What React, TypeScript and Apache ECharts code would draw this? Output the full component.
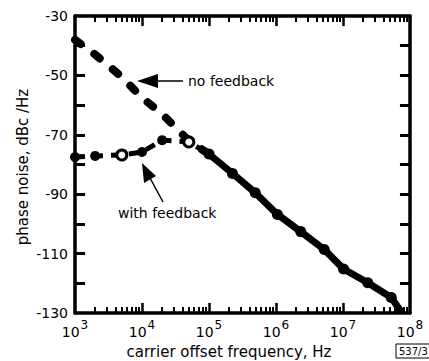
import React, { useEffect, useRef } from "react";
import * as echarts from "echarts";

// no feedback (dashed) curve
const noFbFreq = [1000, 2000, 5000, 10000, 20000, 50000, 100000];
const noFbNoise = [-38, -43, -50.5, -57.5, -63, -72, -76.5];

// with feedback, low-offset part (dashed with dots)
const fbLowFreq = [1000, 2000, 5000, 10000, 20000, 50000, 100000];
const fbLowNoise = [-77.5, -77.1, -76.8, -75.8, -71.8, -72.4, -76.5];
const fbLowOpen = [false, false, true, false, false, true, false];

// common curve above 1e5 (solid with dots)
const fbHighFreq = [100000, 224000, 490000, 1050000, 2340000, 5250000, 10200000, 23400000, 52500000, 70800000];
const fbHighNoise = [-76.5, -83, -89.5, -96.8, -102.6, -108.6, -115.2, -119.8, -124.8, -129];

// tick values
const xMajorTicks = [1e4, 1e5, 1e6, 1e7];
const xMinorTicks: number[] = [];
for (const d of [1e3, 1e4, 1e5, 1e6, 1e7]) for (let k = 2; k <= 9; k++) xMinorTicks.push(k * d);
const yTicks = [-120, -110, -100, -90, -80, -70, -60, -50, -40];

const FONT = "DejaVu Sans";
const X_MIN = 1e3;
const X_MAX = 1e8;
const Y_MIN = -130;
const Y_MAX = -30;

const mkAxisLine = () => ({ show: true, lineStyle: { color: "#000", width: 3.5 } });

// tick segments as markLine pairs in data coordinates
const MAJ_DB = 3.4; // ~10 px
const MIN_DB = 2.0; // ~6 px
const Y_TICK_DEC = 0.15; // ~10 px in decades
const tickSegments: any[] = [];
for (const v of xMajorTicks) {
  tickSegments.push([{ coord: [v, Y_MIN], lineStyle: { width: 2.5 } }, { coord: [v, Y_MIN + MAJ_DB] }]);
  tickSegments.push([{ coord: [v, Y_MAX], lineStyle: { width: 2.5 } }, { coord: [v, Y_MAX - MAJ_DB] }]);
}
for (const v of xMinorTicks) {
  tickSegments.push([{ coord: [v, Y_MIN], lineStyle: { width: 2 } }, { coord: [v, Y_MIN + MIN_DB] }]);
  tickSegments.push([{ coord: [v, Y_MAX], lineStyle: { width: 2 } }, { coord: [v, Y_MAX - MIN_DB] }]);
}
for (const y of yTicks) {
  tickSegments.push([{ coord: [X_MIN, y], lineStyle: { width: 3 } }, { coord: [X_MIN * Math.pow(10, Y_TICK_DEC), y] }]);
  tickSegments.push([{ coord: [X_MAX, y], lineStyle: { width: 3 } }, { coord: [X_MAX / Math.pow(10, Y_TICK_DEC), y] }]);
}

export default function App() {
  const ref = useRef<HTMLDivElement>(null);
  useEffect(() => {
    if (!ref.current) return;
    const chart = echarts.init(ref.current, undefined, { renderer: "svg" });
    chart.setOption({
      animation: false,
      grid: { left: 75, right: 19, top: 16, bottom: 48 },
      xAxis: [
        {
          type: "log",
          min: X_MIN,
          max: X_MAX,
          position: "bottom",
          axisLine: mkAxisLine(),
          axisTick: { show: false },
          splitLine: { show: false },
          axisLabel: {
            margin: 6,
            formatter: (v: number) => "{b|10}{s|" + Math.round(Math.log10(v)) + "}",
            rich: {
              b: { fontFamily: FONT, fontSize: 14, color: "#000", lineHeight: 20, verticalAlign: "bottom" },
              s: { fontFamily: FONT, fontSize: 12, color: "#000", lineHeight: 20, verticalAlign: "top", padding: [0, 0, 8, 1] },
            },
          },
        },
        {
          type: "log",
          min: X_MIN,
          max: X_MAX,
          position: "top",
          axisLine: mkAxisLine(),
          axisTick: { show: false },
          splitLine: { show: false },
          axisLabel: { show: false },
        },
      ],
      yAxis: [
        {
          type: "value",
          min: Y_MIN,
          max: Y_MAX,
          interval: 20,
          position: "left",
          axisLine: mkAxisLine(),
          axisTick: { show: false },
          splitLine: { show: false },
          axisLabel: { margin: 7, fontFamily: FONT, fontSize: 14, color: "#000" },
        },
        {
          type: "value",
          min: Y_MIN,
          max: Y_MAX,
          interval: 20,
          position: "right",
          axisLine: mkAxisLine(),
          axisTick: { show: false },
          splitLine: { show: false },
          axisLabel: { show: false },
        },
      ],
      series: [
        {
          name: "no feedback",
          type: "line",
          symbol: "none",
          data: noFbFreq.map((f, i) => [f, noFbNoise[i]]),
          lineStyle: { color: "#000", width: 8, type: [7, 17], cap: "round" },
        },
        {
          name: "with feedback",
          type: "line",
          symbol: "circle",
          symbolSize: 10,
          data: fbLowFreq.map((f, i) =>
            fbLowOpen[i]
              ? { value: [f, fbLowNoise[i]], itemStyle: { color: "#fff", borderColor: "#000", borderWidth: 3 } }
              : { value: [f, fbLowNoise[i]] }
          ),
          itemStyle: { color: "#000" },
          lineStyle: { color: "#000", width: 5, type: [10, 8] },
        },
        {
          name: "common",
          type: "line",
          symbol: "circle",
          symbolSize: 11,
          data: fbHighFreq.map((f, i) =>
            i === fbHighFreq.length - 1 ? { value: [f, fbHighNoise[i]], symbol: "none" } : [f, fbHighNoise[i]]
          ),
          itemStyle: { color: "#000" },
          lineStyle: { color: "#000", width: 7, cap: "round" },
          markLine: {
            silent: true,
            symbol: ["none", "none"],
            label: { show: false },
            emphasis: { disabled: true },
            lineStyle: { color: "#000", width: 2.5, type: "solid", cap: "butt" },
            data: tickSegments,
          },
        },
      ],
      graphic: [
        { type: "text", x: 188, y: 81, style: { text: "no feedback", fontFamily: FONT, fontSize: 14, fill: "#000", verticalAlign: "middle" } },
        { type: "text", x: 118, y: 213, style: { text: "with feedback", fontFamily: FONT, fontSize: 14, fill: "#000", verticalAlign: "middle" } },
        { type: "text", x: 229, y: 352, style: { text: "carrier offset frequency, Hz", fontFamily: FONT, fontSize: 15, fill: "#000", align: "center", verticalAlign: "middle" } },
        { type: "text", x: 23, y: 167, rotation: Math.PI / 2, style: { text: "phase noise, dBc /Hz", fontFamily: FONT, fontSize: 15, fill: "#000", align: "center", verticalAlign: "middle" } },
        { type: "rect", shape: { x: 396, y: 344, width: 40, height: 14 }, style: { fill: "none", stroke: "#000", lineWidth: 1 } },
        { type: "text", x: 399, y: 351, style: { text: "537/3", fontFamily: FONT, fontSize: 10, fill: "#000", verticalAlign: "middle" } },
        // annotation arrows
        { type: "polyline", shape: { points: [[183, 81], [152, 81]] }, style: { stroke: "#000", lineWidth: 1.5, fill: "none" } },
        { type: "polygon", shape: { points: [[137, 81], [158, 74], [158, 88]] }, style: { fill: "#000" } },
        { type: "polyline", shape: { points: [[163, 202], [150, 178]] }, style: { stroke: "#000", lineWidth: 1.5, fill: "none" } },
        { type: "polygon", shape: { points: [[142, 163], [144, 183], [156, 176]] }, style: { fill: "#000" } },
      ],
    });
    return () => chart.dispose();
  }, []);
  return <div ref={ref} style={{ width: 429, height: 361, position: "absolute", left: 0, top: 0 }} />;
}
